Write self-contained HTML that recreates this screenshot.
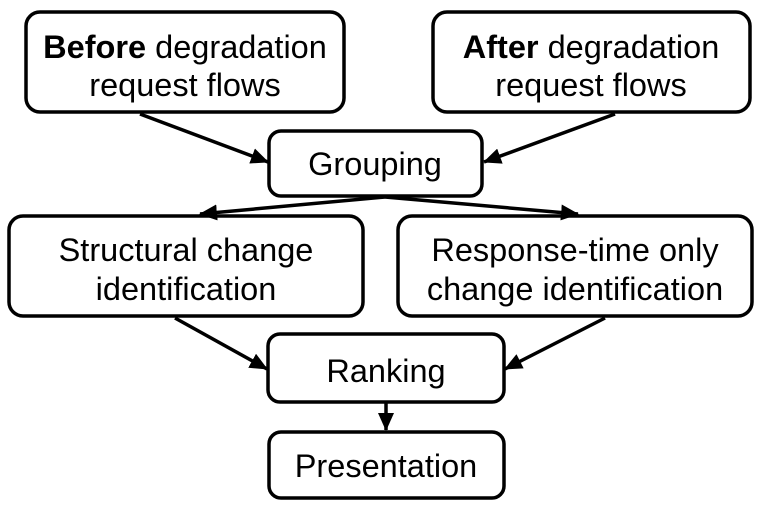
<!DOCTYPE html>
<html><head><style>
body{margin:0;background:#fff;}
svg text{font-family:"Liberation Sans",Arial,sans-serif;font-size:32.5px;fill:#000;text-anchor:middle;}
</style></head><body>
<svg width="762" height="510" viewBox="0 0 762 510" xmlns="http://www.w3.org/2000/svg">
<defs>
<marker id="b" markerWidth="18" markerHeight="16" refX="17" refY="8" orient="auto" markerUnits="userSpaceOnUse" viewBox="0 0 18 16"><path d="M0,0 L18,8 L0,16 z" fill="#000"/></marker></defs>
<g fill="none" stroke="#000" stroke-width="3.5">
<rect x="26" y="12" width="318" height="100" rx="14"/>
<rect x="433" y="12" width="317" height="100" rx="14"/>
<rect x="269" y="131" width="213" height="65" rx="12"/>
<rect x="9" y="216" width="354" height="100" rx="14"/>
<rect x="398" y="216" width="354" height="100" rx="14"/>
<rect x="268" y="334" width="236" height="68" rx="12"/>
<rect x="269" y="432" width="235" height="66" rx="12"/>
</g>
<g stroke="#000" stroke-width="3.5" marker-end="url(#b)">
<line x1="140" y1="114" x2="268" y2="162"/>
<line x1="615" y1="114" x2="484" y2="162"/>
<line x1="385" y1="197" x2="200" y2="214"/>
<line x1="385" y1="197" x2="578" y2="214"/>
<line x1="175" y1="318" x2="267" y2="369"/>
<line x1="605" y1="318" x2="505" y2="369"/>
<line x1="386" y1="403" x2="386" y2="430"/>
</g>
<text x="185" y="58"><tspan font-weight="bold">Before</tspan> degradation</text>
<text x="185" y="96">request flows</text>
<text x="591" y="58"><tspan font-weight="bold">After</tspan> degradation</text>
<text x="591" y="96">request flows</text>
<text x="375" y="175">Grouping</text>
<text x="186" y="261">Structural change</text>
<text x="186" y="300">identification</text>
<text x="575" y="261">Response-time only</text>
<text x="575" y="300">change identification</text>
<text x="386" y="382">Ranking</text>
<text x="386" y="477">Presentation</text>
</svg>
</body></html>
